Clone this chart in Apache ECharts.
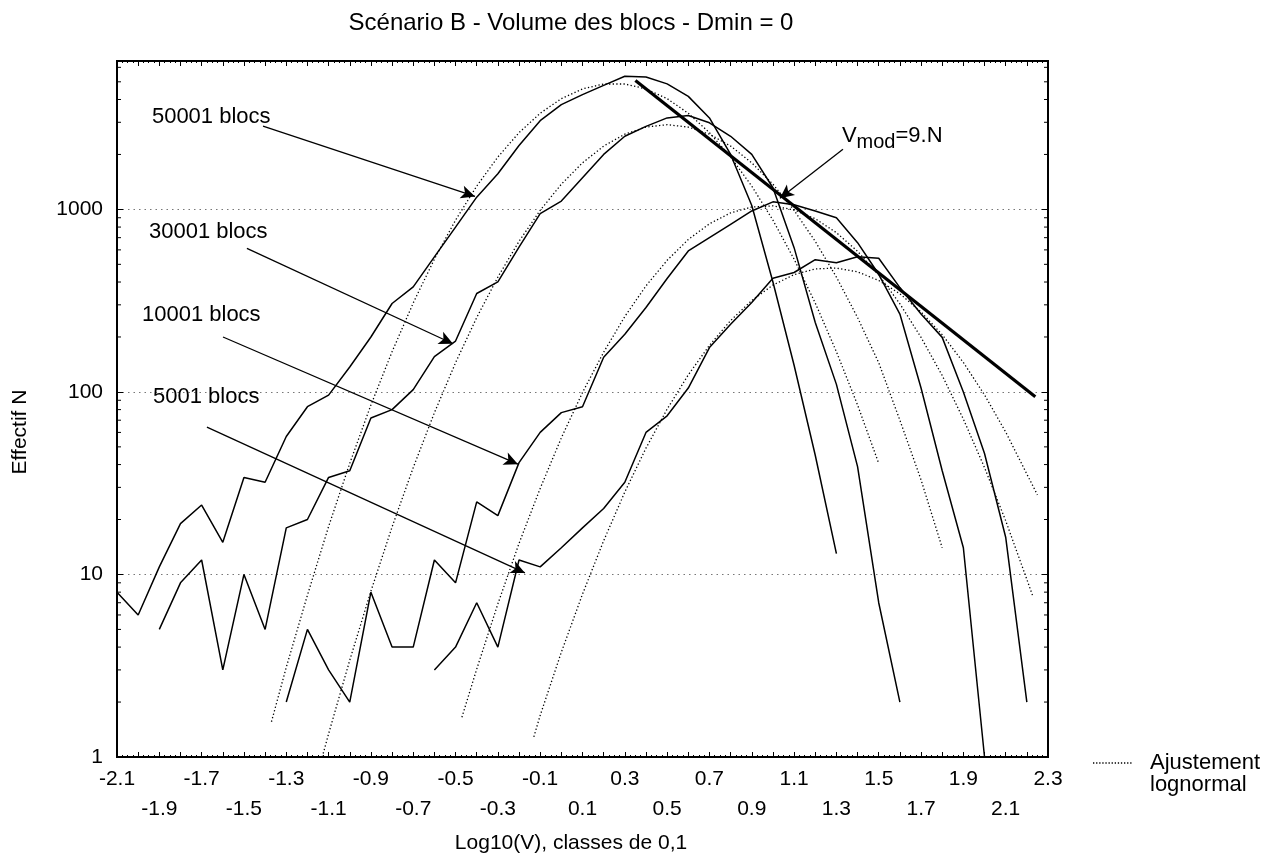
<!DOCTYPE html>
<html>
<head>
<meta charset="utf-8">
<script src="https://cdn.jsdelivr.net/npm/echarts@6/dist/echarts.min.js"></script>
<style>
html,body{margin:0;padding:0;background:#fff;}
#c{width:1279px;height:857px;}
</style>
</head>
<body>
<div id="c"></div>
<script>
// ---------- data ----------
const classes = [-2.1,-2.0,-1.9,-1.8,-1.7,-1.6,-1.5,-1.4,-1.3,-1.2,-1.1,-1.0,-0.9,-0.8,-0.7,-0.6,-0.5,-0.4,-0.3,-0.2,-0.1,0.0,0.1,0.2,0.3,0.4,0.5,0.6,0.7,0.8,0.9,1.0,1.1,1.2,1.3,1.4,1.5,1.6,1.7,1.8,1.9,2.0,2.1,2.2,2.3];

const n50001 = [8,6,11,19,24,15,34,32,57,83,96,137,200,305,376,549,800,1167,1567,2238,3063,3750,4250,4780,5360,5310,4870,4160,3170,2000,1050,400,140,45,13,null,null,null,null,null,null,null,null,null,null];
const n30001 = [null,null,5,9,12,3,10,5,18,20,34,37,72,80,103,156,190,346,401,622,947,1110,1490,2000,2515,2850,3170,3265,2980,2515,2000,1314,617,240,110,39,7,2,null,null,null,null,null,null,null];
const n10001 = [null,null,null,null,null,null,null,null,2,5,3,2,8,4,4,12,9,25,21,41,60,77,83,155,207,290,418,592,700,828,980,1100,1060,980,900,657,441,267,105,37,14,1,null,null,null];
const n5001  = [null,null,null,null,null,null,null,null,null,null,null,null,null,null,null,3,4,7,4,12,11,14,18,23,32,60,74,105,175,235,309,420,451,530,510,550,540,373,267,199,100,46,16,2,null];

const fitX50001 = [-1.37,-1.3,-1.2,-1.1,-1.0,-0.9,-0.8,-0.7,-0.6,-0.5,-0.4,-0.3,-0.2,-0.1,0.0,0.1,0.2,0.3,0.4,0.5,0.6,0.7,0.8,0.9,1.0,1.1,1.2,1.3,1.4,1.5];
const fitY50001 = [1.56,3.1,7.7,18.3,40.6,84.8,166,307,534,873,1341,1936,2632,3362,4044,4571,4864,4864,4571,4044,3362,2632,1936,1341,873,534,307,166,84.8,40.6];

const fitX30001 = [-1.13,-1.1,-1.0,-0.9,-0.8,-0.7,-0.6,-0.5,-0.4,-0.3,-0.2,-0.1,0.0,0.1,0.2,0.3,0.4,0.5,0.6,0.7,0.8,0.9,1.0,1.1,1.2,1.3,1.4,1.5,1.6,1.7,1.8];
const fitY30001 = [1.0,1.34,3.39,8.1,18.2,38.5,76.9,144.5,255.6,425.8,668,988,1374,1799,2222,2582,2825,2911,2825,2582,2222,1799,1374,988,668,425.8,255.6,144.5,70,33,14];

const fitX10001 = [-0.47,-0.4,-0.3,-0.2,-0.1,0.0,0.1,0.2,0.3,0.4,0.5,0.6,0.7,0.8,0.9,1.0,1.1,1.2,1.3,1.4,1.5,1.6,1.7,1.8,1.9,2.0,2.1,2.2,2.23];
const fitY10001 = [1.65,3.03,6.9,14.8,29.6,56,99.3,165,259,381,526,684,834,957,1031,1045,993,889,746,589,437,304,199,123,71,38.5,19.7,9.4,7.5];

const fitX5001 = [-0.13,-0.1,0.0,0.1,0.2,0.3,0.4,0.5,0.6,0.7,0.8,0.9,1.0,1.1,1.2,1.3,1.4,1.5,1.6,1.7,1.8,1.9,2.0,2.1,2.2,2.25];
const fitY5001 = [1.29,1.69,3.75,7.8,15.3,28.3,49.2,80.5,124,180,246,317,385,439,472,477,455,408,345,274,206,145,96.4,60.3,35.5,27.3];

const vmodX = [0.35, 2.24];
const vmodY = [5080, 94];

const xTickLabels = ['-2.1','-1.9','-1.7','-1.5','-1.3','-1.1','-0.9','-0.7','-0.5','-0.3','-0.1','0.1','0.3','0.5','0.7','0.9','1.1','1.3','1.5','1.7','1.9','2.1','2.3'];
const yTickLabels = ['1','10','100','1000'];

// annotations (data coordinates)
const annoText = ['50001 blocs','30001 blocs','10001 blocs','5001 blocs'];
const annoTextAt = [[-1.935,3200],[-1.949,757],[-1.982,265],[-1.930,94]];
const arrowFrom = [[-1.41,2858],[-1.486,611],[-1.599,200],[-1.675,64.2],[1.331,2138]];
const arrowTo   = [[-0.408,1178],[-0.512,183.6],[-0.205,40.2],[-0.172,10.2],[1.033,1150]];
const vmodTextAt = [1.326,2520];

// ---------- chart ----------
const FONT = "'Liberation Sans', Arial, Helvetica, sans-serif";
const X_MIN = -2.1, X_MAX = 2.3, Y_MIN = 1, Y_MAX = 6500;
const chart = echarts.init(document.getElementById('c'), null, {renderer:'canvas'});

function pairs(xs, ys){ const out=[]; for(let i=0;i<xs.length;i++){ if(ys[i]!=null) out.push([xs[i], ys[i]]); } return out; }

// log minor tick values (2..9 x 10^k) for the y axes
const yMinorTicks = [];
for (let k = 0; k < 4; k++) for (let m = 2; m <= 9; m++) { const v = m * Math.pow(10, k); if (v < Y_MAX) yMinorTicks.push([0, v]); }

const xLabel = v => {
  const i = Math.round((v + 2.1) * 10);
  const s = (Math.round(v * 10) / 10).toFixed(1);
  if (xTickLabels.indexOf(s) < 0) return '';
  return (i % 4 === 0) ? s : '\n' + s;
};
const yLabel = v => {
  const s = String(Math.round(v));
  const l = Math.log10(v);
  return (Math.abs(l - Math.round(l)) < 1e-6 && yTickLabels.indexOf(s) >= 0) ? s : '';
};

const solid = {type:'line', symbol:'none', showSymbol:false, silent:true, z:3,
  lineStyle:{color:'#000', width:1.5}};
const dotted = {type:'line', symbol:'none', showSymbol:false, silent:true, z:2,
  lineStyle:{color:'#000', width:1.3, type:[1.3,2.3]}};

const xCommon = {type:'value', min:X_MIN, max:X_MAX, interval:0.1, splitLine:{show:false},
  axisLine:{show:true, onZero:false, lineStyle:{color:'#000', width:2}},
  axisTick:{show:true, inside:true, length:5, lineStyle:{color:'#000', width:1}},
  minorTick:{show:true, splitNumber:4, length:2, lineStyle:{color:'#000', width:1}}};

const option = {
  animation:false,
  backgroundColor:'#fff',
  textStyle:{fontFamily:FONT, color:'#000'},
  grid:{left:117, right:231, top:61, bottom:100, show:true, borderColor:'#000', borderWidth:2,
        containLabel:false, outerBoundsMode:'none'},
  xAxis:[
    Object.assign({}, xCommon, {position:'bottom',
      axisLabel:{show:true, interval:0, formatter:xLabel, fontSize:21, lineHeight:30, margin:7,
                 color:'#000', fontFamily:FONT, showMinLabel:true, showMaxLabel:true, hideOverlap:false}}),
    Object.assign({}, xCommon, {position:'top', axisLabel:{show:false}})
  ],
  yAxis:[
    {type:'log', logBase:10, min:Y_MIN, max:Y_MAX, position:'left',
     axisLine:{show:true, onZero:false, lineStyle:{color:'#000', width:2}},
     axisTick:{show:true, inside:true, length:6, lineStyle:{color:'#000'}},
     splitLine:{show:true, lineStyle:{color:'#777', width:1, type:[1.5,4]}},
     axisLabel:{formatter:yLabel, fontSize:21, margin:14, color:'#000', fontFamily:FONT,
                showMinLabel:true, showMaxLabel:true, hideOverlap:false}},
    {type:'log', logBase:10, min:Y_MIN, max:Y_MAX, position:'right',
     axisLine:{show:true, onZero:false, lineStyle:{color:'#000', width:2}},
     axisTick:{show:true, inside:true, length:6, lineStyle:{color:'#000'}},
     axisLabel:{show:false}, splitLine:{show:false}}
  ],
  series:[
    Object.assign({}, solid, {name:'50001 blocs', data:pairs(classes, n50001)}),
    Object.assign({}, solid, {name:'30001 blocs', data:pairs(classes, n30001)}),
    Object.assign({}, solid, {name:'10001 blocs', data:pairs(classes, n10001)}),
    Object.assign({}, solid, {name:'5001 blocs',  data:pairs(classes, n5001)}),
    Object.assign({}, dotted, {name:'Ajustement lognormal', data:pairs(fitX50001, fitY50001)}),
    Object.assign({}, dotted, {name:'Ajustement lognormal', data:pairs(fitX30001, fitY30001)}),
    Object.assign({}, dotted, {name:'Ajustement lognormal', data:pairs(fitX10001, fitY10001)}),
    Object.assign({}, dotted, {name:'Ajustement lognormal', data:pairs(fitX5001, fitY5001)}),
    {type:'line', name:'Vmod', symbol:'none', showSymbol:false, silent:true, z:4,
     lineStyle:{color:'#000', width:3.2}, data:pairs(vmodX, vmodY),
     markLine:{silent:true, symbol:['none','arrow'], symbolSize:[10,14], animation:false,
       lineStyle:{color:'#000', width:1.3, type:'solid'}, label:{show:false}, emphasis:{disabled:true},
       data: arrowFrom.map((p,i) => [{coord:p}, {coord:arrowTo[i]}])}},
    {type:'custom', name:'yMinorTicks', silent:true, z:6, clip:false, encode:{x:0, y:1},
     data: yMinorTicks,
     renderItem: (params, api) => {
       const v = api.value(1);
       const pl = api.coord([X_MIN, v]);
       const pr = api.coord([X_MAX, v]);
       return {type:'group', children:[
         {type:'line', shape:{x1:pl[0], y1:pl[1], x2:pl[0] + 4, y2:pl[1]}, style:{stroke:'#000', lineWidth:1}},
         {type:'line', shape:{x1:pr[0] - 4, y1:pr[1], x2:pr[0], y2:pr[1]}, style:{stroke:'#000', lineWidth:1}}
       ]};
     }}
  ]
};
chart.setOption(option);

const toPx = p => chart.convertToPixel({xAxisIndex:0, yAxisIndex:0}, p);
const graphics = [];
function txt(x, y, text, size, align, valign, extra){
  return Object.assign({type:'text', x:x, y:y, silent:true, z:10,
    style:{text:text, fill:'#000', font: size + 'px ' + FONT,
           align:align, verticalAlign:valign, textAlign:align, textVerticalAlign:valign}}, extra || {});
}
graphics.push(txt(571, 23, 'Scénario B - Volume des blocs - Dmin = 0', 24, 'center', 'middle'));
graphics.push(txt(571, 843, 'Log10(V), classes de 0,1', 21, 'center', 'middle'));
graphics.push(txt(20, 432, 'Effectif N', 21, 'center', 'middle', {rotation: Math.PI/2}));
annoText.forEach((t, i) => {
  const p = toPx(annoTextAt[i]);
  graphics.push(txt(p[0], p[1], t, 22, 'left', 'middle'));
});
const vp = toPx(vmodTextAt);
graphics.push({type:'text', x:vp[0], y:vp[1], silent:true, z:10,
  style:{text:'{v|V}{s|mod}{v|=9.N}', align:'left', verticalAlign:'middle',
         textAlign:'left', textVerticalAlign:'middle', fill:'#000',
         rich:{v:{fontSize:22, fontFamily:FONT, fill:'#000', color:'#000'},
               s:{fontSize:20, fontFamily:FONT, fill:'#000', color:'#000', padding:[12,0,0,0]}}}});
// legend
graphics.push({type:'line', silent:true, z:10, shape:{x1:1093, y1:763, x2:1133, y2:763},
  style:{stroke:'#000', lineWidth:1.3, lineDash:[1.3,1.8]}});
const legendText = txt(1150, 752, 'Ajustement\nlognormal', 22, 'left', 'top');
legendText.style.lineHeight = 22;
graphics.push(legendText);
chart.setOption({graphic: graphics});
</script>
</body>
</html>
